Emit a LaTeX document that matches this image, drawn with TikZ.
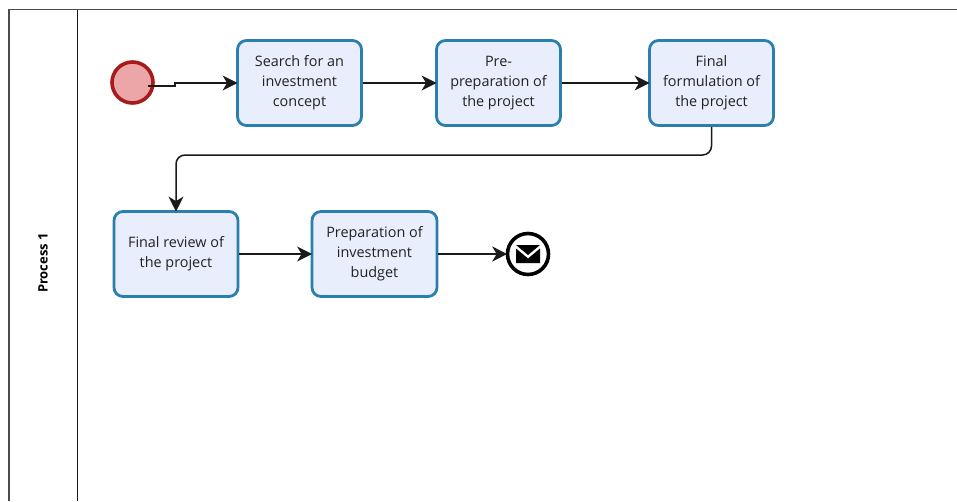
\documentclass[tikz,border=0pt]{standalone}
\usepackage{fontspec}
\setmainfont{Open Sans}
\usetikzlibrary{arrows.meta}
\definecolor{taskedge}{HTML}{2A7FAE}
\definecolor{taskfill}{HTML}{E9EEFC}
\definecolor{startedge}{HTML}{A61C1C}
\definecolor{startfill}{HTML}{EDA6A8}
\definecolor{flowline}{HTML}{1A1A1A}
\definecolor{txt}{HTML}{222222}
\tikzset{
  x=1pt,y=-1pt,
  taskbox/.style={draw=taskedge,fill=taskfill,line width=2.8pt,rounded corners=9pt,minimum width=124pt,minimum height=85pt,inner sep=0pt,align=center,text=txt,font=\fontsize{14.4}{20}\selectfont,execute at begin node={\rule{0pt}{17pt}}},
  flow/.style={draw=flowline,line width=1.5pt,shorten >=-1.5pt,-{Stealth[length=15pt,width=15pt,inset=4.5pt]}},
  poolline/.style={draw=black!70,line width=1.6pt},
}
\begin{document}
\begin{tikzpicture}
\useasboundingbox (0,0) rectangle (957,501);
\fill[white] (0,0) rectangle (957,501);
\coordinate (pt) at (9,9.5);
\coordinate (pb) at (9,501);
\coordinate (pr) at (957,9.5);
\coordinate (lt) at (77.5,9.5);
\coordinate (lb) at (77.5,501);
\draw[poolline] (pb) -- (pt) -- (pr);
\draw[draw=black!90,line width=1.6pt] (lt) -- (lb);
\node[rotate=90,font=\bfseries\fontsize{13}{15}\selectfont,text=black] (pool) at (43,263) {Process 1};
\node[circle,draw=startedge,fill=startfill,line width=3.6pt,minimum size=41pt,inner sep=0pt] (start) at (132.5,82.5) {};
\node[taskbox] (t1) at (299.5,83) {Search for an\\investment\\concept};
\node[taskbox] (t2) at (498.5,83) {Pre-\\preparation of\\the project};
\node[taskbox] (t3) at (711.5,83) {Final\\formulation of\\the project};
\node[taskbox] (t4) at (176,254) {Final review of\\the project};
\node[taskbox,minimum width=125pt] (t5) at (374.5,254) {Preparation of\\investment\\budget};
\node[circle,draw=black,fill=white,line width=3.6pt,minimum size=41pt,inner sep=0pt] (end) at (528,254) {};
\coordinate (env) at (528,254);
\fill[black] ([shift={(-12,-9)}]env) -- ([shift={(12,-9)}]env) -- ([shift={(0,1)}]env) -- cycle;
\fill[black] ([shift={(-12,-5.5)}]env) -- ([shift={(0,4.5)}]env) -- ([shift={(12,-5.5)}]env) -- ([shift={(12,9)}]env) -- ([shift={(-12,9)}]env) -- cycle;
\coordinate (s0) at (148,86);
\coordinate (s1) at (175,86);
\coordinate (s2) at (175,83);
\draw[flow] (s0) -- (s1) -- (s2) -- (t1.west);
\draw[flow] (t1.east) -- (t2.west);
\draw[flow] (t2.east) -- (t3.west);
\coordinate (b1) at (t3.south |- 0,155);
\coordinate (b2) at (t4.north |- 0,155);
\draw[flow,rounded corners=9pt] (t3.south) -- (b1) -- (b2) -- (t4.north);
\draw[flow] (t4.east) -- (t5.west);
\draw[flow] (t5.east) -- (end.west);
\end{tikzpicture}
\end{document}
